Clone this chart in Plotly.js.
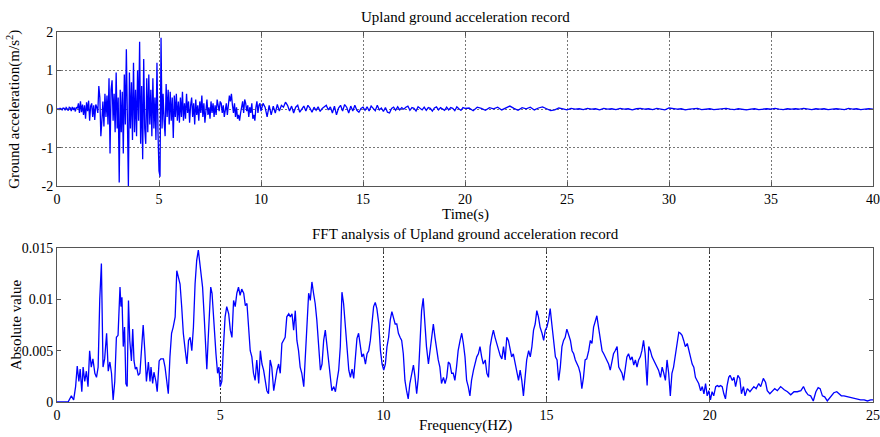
<!DOCTYPE html>
<html>
<head>
<meta charset="utf-8">
<script src="https://cdn.plot.ly/plotly-3.0.1.min.js"></script>
<style>html,body{margin:0;padding:0;background:#fff;}#chart{width:880px;height:437px;}</style>
</head>
<body>
<div id="chart"></div>
<script>
// ---- Top chart: ground acceleration (m/s^2), sampled segments ----
const seg1Start = 0.0, seg1Dt = 0.05;   // 0 - 10 s
const accelSeg1 = [
 0,0.01,-0.01,0.02,0.01,-0.02,0.03,0.02,-0.03,0.04,0.01,-0.04,0.05,0.03,-0.05,0.06,-0.02,0.04,-0.06,0.05,0.02,
 0.15,-0.1,0.2,-0.08,0.12,-0.15,0.1,-0.25,0.18,-0.05,0.22,-0.3,0.08,0.15,-0.2,0.1,-0.28,0.12,0.05,-0.1,
 0.6,0.3,-0.7,-0.3,0.2,-0.45,0.4,-0.2,0.35,-0.4,0.8,-1.15,0.5,0.75,-0.3,0.4,-0.6,0.95,-0.5,0.3,
 -1.9,0.5,-0.6,0.45,-1.15,0.9,-0.4,1.55,-0.8,-2.0,0.95,-0.5,0.7,-0.8,1.2,-0.6,0.5,-0.7,1.0,-0.3,
 1.75,-0.9,0.6,-1.3,1.3,-0.5,-0.9,0.8,-0.6,0.9,-0.4,0.5,-0.7,0.8,-0.5,0.3,-0.8,1.2,-0.6,-1.6,
 -1.75,1.85,-0.5,0.4,-0.3,-0.7,0.65,-0.2,0.5,-0.4,0.45,-0.3,0.3,-0.75,0.35,-0.2,0.4,-0.3,0.2,-0.35,
 0.3,-0.2,0.45,-0.3,0.15,-0.25,0.4,-0.1,0.2,-0.35,0.1,0.3,-0.2,0.15,-0.4,0.25,-0.15,0.1,-0.3,0.2,
 -0.1,0.35,-0.2,0.15,-0.35,0.1,0.25,-0.15,0.05,-0.25,0.2,-0.1,0.15,-0.2,0.1,-0.15,0.25,0.1,-0.05,0.2,
 0.15,-0.1,0.1,-0.2,0.05,0.15,-0.15,0.1,0.35,0.2,0.4,0.1,-0.1,0.15,-0.2,0.05,-0.25,-0.15,-0.3,-0.1,
 0.1,0.2,-0.1,0.25,0.15,-0.05,0.1,-0.2,0.05,-0.1,0.15,-0.25,-0.15,-0.3,0.05,0.2,-0.1,0.1,0.15,-0.05
];
const seg2Start = 10.1, seg2Dt = 0.1;   // 10.1 - 20 s
const accelSeg2 = [
 0.15,0.05,-0.2,0.1,-0.15,0.08,-0.1,0.12,-0.05,0.1,
 0.05,0.18,0.1,-0.05,0.08,-0.1,0.05,0.1,-0.08,0.02,
 0.08,-0.05,0.1,0.03,-0.08,0.05,-0.03,0.06,-0.06,0.02,
 0.05,0.1,-0.02,0.06,-0.1,0.08,-0.15,0.03,0.1,-0.05,
 0.12,0.05,-0.1,0.08,-0.05,0.1,-0.03,-0.08,0.02,0.05,
 -0.03,0.06,-0.05,0.08,0.02,-0.04,0.1,-0.02,0.03,-0.06,
 0.04,-0.08,-0.1,0.02,0.05,-0.03,0.06,-0.02,0.04,0.0,
 0.05,0.08,-0.03,0.04,0.02,-0.05,0.06,0.03,-0.02,0.05,
 -0.03,0.04,0.02,-0.05,0.03,0.06,-0.02,0.04,0.01,-0.03,
 0.05,-0.02,0.04,0.02,-0.04,0.06,0.01,-0.03,0.04,0.02
];
const seg3Start = 20.2, seg3Dt = 0.2;   // 20.2 - 40 s
const accelSeg3 = [
 0.03,-0.04,0.05,0.02,-0.03,0.04,0.01,0.05,-0.02,0.03,
 0.08,0.02,-0.03,0.04,0.01,0.05,-0.02,0.03,0.06,0.01,
 -0.04,-0.02,0.03,0.01,-0.02,0.02,0.0,0.01,-0.01,0.02,
 0.0,0.01,-0.02,0.02,0.0,0.01,-0.01,0.02,0.0,0.01,
 -0.02,0.01,0.02,0.0,0.01,-0.01,0.02,0.0,-0.02,0.03,
 0.02,0.0,0.01,-0.02,0.0,0.01,0.02,-0.01,0.0,0.01,
 -0.01,0.0,0.01,0.02,0.0,-0.01,0.01,0.0,-0.02,0.0,
 0.01,-0.01,0.0,0.01,0.0,0.02,0.0,-0.01,0.01,0.0,
 0.01,0.0,0.02,0.0,-0.01,0.01,0.0,0.01,-0.01,0.0,
 0.01,0.0,-0.01,0.02,0.0,0.01,-0.01,0.0,0.01,0.0
];

// ---- Bottom chart: FFT amplitude, read at these frequencies (Hz) ----
const fftFreq = [
 0,0.34,0.44,0.51,0.57,0.62,0.67,0.71,0.76,0.8,0.85,0.9,0.95,1.0,1.05,1.1,1.16,1.21,1.26,1.31,1.36,1.41,1.46,1.52,1.57,1.62,1.67,1.72,1.77,1.82,1.87,1.93,1.96,1.99,
 2.03,2.07,2.11,2.15,2.19,2.23,2.28,2.32,2.36,2.4,2.44,2.49,2.54,2.59,2.64,2.69,2.74,2.8,2.85,2.88,2.93,2.97,3.03,3.07,3.13,3.18,3.26,3.31,3.36,3.41,3.46,3.51,3.56,3.62,
 3.67,3.72,3.77,3.82,3.87,3.93,3.98,4.03,4.08,4.13,4.18,4.23,4.28,4.33,4.36,4.4,4.46,4.51,4.55,4.59,4.63,4.67,4.71,4.75,4.79,4.83,4.87,4.92,4.96,5.0,5.05,
 5.1,5.15,5.2,5.26,5.31,5.36,5.41,5.46,5.51,5.56,5.61,5.66,5.72,5.77,5.82,5.87,5.92,5.97,6.02,6.07,6.12,6.18,6.23,6.28,6.33,6.43,6.48,6.53,6.58,6.64,6.69,6.74,6.79,6.84,6.89,6.94,6.99,
 7.04,7.1,7.15,7.2,7.25,7.3,7.35,7.4,7.45,7.5,7.56,7.61,7.66,7.71,7.76,7.81,7.86,7.91,7.96,8.01,8.07,8.12,8.17,8.22,8.27,8.32,8.37,8.42,8.48,8.53,8.58,8.63,8.68,8.73,8.78,8.83,8.88,8.94,8.99,
 9.04,9.09,9.14,9.19,9.24,9.29,9.34,9.39,9.45,9.5,9.55,9.6,9.65,9.7,9.75,9.8,9.86,9.91,9.96,10.01,10.06,10.11,10.16,10.21,10.26,10.31,10.36,10.41,10.46,10.51,10.56,10.61,10.66,10.71,10.76,10.81,10.87,10.92,10.97,
 11.02,11.07,11.12,11.17,11.22,11.27,11.32,11.38,11.43,11.48,11.53,11.58,11.63,11.68,11.73,11.78,11.84,11.89,11.94,11.99,12.04,12.09,12.14,12.19,12.24,12.29,12.35,12.4,12.45,12.5,12.55,12.6,12.65,12.7,12.76,12.81,12.86,12.91,12.96,
 13.01,13.06,13.12,13.17,13.22,13.27,13.32,13.37,13.42,13.47,13.53,13.58,13.63,13.68,13.73,13.78,13.83,13.88,13.93,13.98,14.04,14.09,14.14,14.19,14.24,14.29,14.34,14.39,14.45,14.5,14.55,14.6,14.65,14.7,14.75,14.8,14.86,14.91,14.96,
 15.01,15.06,15.11,15.16,15.21,15.27,15.32,15.37,15.42,15.47,15.52,15.57,15.62,15.68,15.73,15.78,15.83,15.88,15.93,15.98,16.03,16.08,16.13,16.18,16.23,16.29,16.34,16.39,16.44,16.49,16.54,16.59,16.64,16.7,16.75,16.8,16.85,16.9,16.95,
 17.0,17.05,17.1,17.16,17.21,17.26,17.31,17.36,17.41,17.46,17.51,17.57,17.62,17.67,17.72,17.77,17.82,17.87,17.92,17.97,18.02,18.08,18.13,18.18,18.23,18.28,18.33,18.38,18.43,18.49,18.54,18.59,18.64,18.69,18.74,18.79,18.84,18.89,18.95,
 19.0,19.05,19.1,19.15,19.2,19.25,19.31,19.36,19.41,19.46,19.51,19.56,19.61,19.66,19.72,19.77,19.82,19.87,19.92,19.97,20.02,20.07,20.12,20.18,20.23,20.28,20.33,20.38,20.43,20.48,20.53,20.58,20.62,20.69,20.74,20.79,20.86,20.92,20.97,
 21.03,21.08,21.15,21.23,21.3,21.35,21.42,21.5,21.56,21.64,21.71,21.76,21.84,21.91,21.99,22.07,22.17,22.28,22.38,22.48,22.58,22.68,22.79,22.87,22.94,
 23.01,23.09,23.17,23.25,23.32,23.38,23.45,23.52,23.6,23.7,23.8,23.89,23.96,24.03,24.11,24.22,24.37,24.52,24.62,24.73,24.83,24.93,25.0
];
const fftAmp = [
 0,0,0.0006,0.0002,0.0015,0.0035,0.002,0.0032,0.001,0.0034,0.002,0.003,0.0015,0.005,0.0034,0.0042,0.0028,0.0024,0.0034,0.010,0.0135,0.0034,0.0042,0.0067,0.003,0.0039,0.0028,0.0002,0.002,0.0063,0.0065,0.0112,0.0093,0.0102,
 0.0054,0.0073,0.0018,0.0015,0.0099,0.006,0.004,0.0071,0.004,0.0032,0.0034,0.0026,0.0028,0.0054,0.0075,0.005,0.002,0.0039,0.002,0.0034,0.0018,0.0029,0.002,0.001,0.004,0.0042,0.0042,0.0034,0.0018,0.0008,0.0044,0.0067,0.0073,0.0083,
 0.0128,0.0122,0.0115,0.0093,0.0067,0.005,0.0037,0.006,0.0063,0.005,0.0073,0.0115,0.0138,0.0148,0.014,0.0125,0.0112,0.0083,0.006,0.0032,0.006,0.0086,0.0112,0.0106,0.0083,0.006,0.0047,0.0028,0.0034,0.0015,0.002,
 0.0054,0.0083,0.0093,0.0086,0.007,0.0063,0.0099,0.0093,0.0106,0.0112,0.0104,0.011,0.0106,0.0094,0.0096,0.007,0.005,0.0044,0.0028,0.0021,0.0041,0.0018,0.005,0.0037,0.0031,0.0011,0.0008,0.0041,0.0034,0.0011,0.0024,0.0031,0.0037,0.0028,0.0057,0.006,0.0063,
 0.0083,0.0086,0.0083,0.0086,0.007,0.0089,0.006,0.005,0.0034,0.0028,0.0015,0.005,0.0076,0.0106,0.0099,0.0117,0.0106,0.0096,0.008,0.0057,0.0031,0.0037,0.006,0.007,0.0054,0.0037,0.0021,0.0011,0.0015,0.001,0.0021,0.0031,0.0054,0.0107,0.0096,0.0073,0.005,0.0031,0.0024,
 0.0032,0.0023,0.0047,0.0062,0.0067,0.0057,0.0044,0.0047,0.0037,0.0047,0.005,0.006,0.0076,0.0093,0.0097,0.0091,0.0076,0.005,0.0037,0.0031,0.0037,0.0054,0.0063,0.008,0.0088,0.0083,0.0076,0.0076,0.0067,0.0063,0.006,0.0047,0.0021,0.0011,0.0003,0.0018,0.0028,0.0036,0.0024,
 0.0008,0.0024,0.006,0.0089,0.0101,0.0073,0.0054,0.0037,0.005,0.0063,0.0076,0.0063,0.005,0.0041,0.0034,0.0018,0.0024,0.0018,0.0024,0.0039,0.0037,0.0028,0.0028,0.0021,0.0034,0.005,0.006,0.0067,0.0057,0.0044,0.0021,0.0015,0.0006,0.0021,0.0031,0.0037,0.0044,0.0047,0.0054,
 0.0044,0.0037,0.0041,0.0028,0.0024,0.0054,0.0063,0.007,0.0063,0.0057,0.005,0.0045,0.0042,0.0054,0.0041,0.0063,0.006,0.005,0.0044,0.0047,0.0037,0.0028,0.0021,0.0031,0.0021,0.0006,0.0021,0.0041,0.005,0.0044,0.0054,0.007,0.0076,0.0089,0.0083,0.0073,0.0067,0.006,0.007,
 0.0073,0.008,0.0091,0.0076,0.006,0.0044,0.0041,0.0021,0.0034,0.0054,0.006,0.0063,0.0071,0.0065,0.006,0.005,0.0047,0.0041,0.0037,0.0034,0.0028,0.0013,0.0024,0.0041,0.0042,0.005,0.006,0.0057,0.0073,0.0078,0.0084,0.0073,0.006,0.005,0.0047,0.0044,0.0041,0.0037,0.0031,
 0.0041,0.0047,0.005,0.0054,0.0034,0.0031,0.0028,0.0021,0.0034,0.0044,0.0047,0.0041,0.0044,0.0036,0.0041,0.0034,0.0041,0.0044,0.005,0.006,0.0047,0.0016,0.0054,0.005,0.0044,0.0041,0.0037,0.0034,0.0031,0.0024,0.0034,0.0028,0.0021,0.0041,0.0028,0.0006,0.0028,0.0034,0.0047,
 0.0057,0.0068,0.0067,0.0065,0.006,0.0054,0.0057,0.005,0.0044,0.0037,0.0034,0.0024,0.0021,0.0018,0.0011,0.0015,0.0008,0.0018,0.0006,0.0011,0.0002,0.001,0.0006,0.0015,0.0016,0.0015,0.0016,0.0015,0.0008,0.0003,0.0016,0.0024,0.0026,0.0021,0.0024,0.0015,0.0026,0.0023,0.0008,
 0.0015,0.0006,0.0013,0.001,0.0013,0.0015,0.0013,0.0018,0.0015,0.0023,0.0019,0.0011,0.0008,0.001,0.0013,0.0011,0.0015,0.0012,0.001,0.0007,0.001,0.001,0.0011,0.0015,0.001,
 0.0007,0.0006,0.0001,0.001,0.0014,0.0013,0.0006,0.0005,0.0001,0.0005,0.0009,0.001,0.0008,0.0006,0.0006,0.0005,0.0004,0.0003,0.0002,0.0002,0.0001,0.0002,0.0002
];

// tick labels
const topXTicks = [0,5,10,15,20,25,30,35,40];
const topYTicks = [-2,-1,0,1,2];
const topYLabels = ['-2','-1','0','1','2'];
const botXTicks = [0,5,10,15,20,25];
const botYTicks = [0,0.005,0.01,0.015];
const botYLabels = ['0','0.005','0.01','0.015'];

// build time axis from the segments' sampling
function timeAxis(start, dt, n){ const t=[]; for(let i=0;i<n;i++) t.push(+(start+i*dt).toFixed(3)); return t; }
const time = [].concat(
  timeAxis(seg1Start, seg1Dt, accelSeg1.length),
  timeAxis(seg2Start, seg2Dt, accelSeg2.length),
  timeAxis(seg3Start, seg3Dt, accelSeg3.length));
const accel = [].concat(accelSeg1, accelSeg2, accelSeg3);

const fam = '"Liberation Serif","Times New Roman",serif';
const tickFont = {family:fam, size:14, color:'#000'};
const titleFont = {family:fam, size:15, color:'#000'};
const lineColor = '#0000ff';

const traces = [
  {x: time, y: accel, type:'scatter', mode:'lines', line:{color:lineColor, width:1.3}, xaxis:'x', yaxis:'y', hoverinfo:'skip'},
  {x: fftFreq, y: fftAmp, type:'scatter', mode:'lines', line:{color:lineColor, width:1.3}, xaxis:'x2', yaxis:'y2', hoverinfo:'skip'}
];

const axBase = {showline:true, linecolor:'#555', linewidth:1, mirror:'ticks', ticks:'inside', ticklen:4, tickcolor:'#555', zeroline:false, tickfont:tickFont};

const layout = {
  width:880, height:437,
  margin:{l:57, r:7, t:32, b:35},
  paper_bgcolor:'#fff', plot_bgcolor:'#fff',
  showlegend:false,
  font: tickFont,
  xaxis: Object.assign({}, axBase, {domain:[0,1], range:[0,40], tickvals:topXTicks, ticktext:topXTicks.map(String), showgrid:true, gridcolor:'#777', griddash:'2px,2px', gridwidth:1, anchor:'y'}),
  yaxis: Object.assign({}, axBase, {domain:[0.583,1], range:[-2,2], tickvals:topYTicks, ticktext:topYLabels, showgrid:true, gridcolor:'#777', griddash:'2px,2px', gridwidth:1, anchor:'x'}),
  xaxis2: Object.assign({}, axBase, {domain:[0,1], range:[0,25], tickvals:botXTicks, ticktext:botXTicks.map(String), showgrid:true, gridcolor:'#333', griddash:'2px,2px', gridwidth:1, anchor:'y2'}),
  yaxis2: Object.assign({}, axBase, {domain:[0,0.416], range:[0,0.015], tickvals:botYTicks, ticktext:botYLabels, showgrid:false, anchor:'x2'}),
  annotations: [
    {text:'Upland ground acceleration record', xref:'paper', yref:'paper', x:0.5, y:1.0405, xanchor:'center', yanchor:'middle', showarrow:false, font:titleFont},
    {text:'Time(s)', xref:'paper', yref:'paper', x:0.5, y:0.507, xanchor:'center', yanchor:'middle', showarrow:false, font:titleFont},
    {text:'Ground acceleration(m/s<sup>2</sup>)', xref:'paper', yref:'paper', x:-0.053, y:0.792, xanchor:'center', yanchor:'middle', textangle:-90, showarrow:false, font:titleFont},
    {text:'FFT analysis of Upland ground acceleration record', xref:'paper', yref:'paper', x:0.5, y:0.454, xanchor:'center', yanchor:'middle', showarrow:false, font:titleFont},
    {text:'Frequency(HZ)', xref:'paper', yref:'paper', x:0.5, y:-0.064, xanchor:'center', yanchor:'middle', showarrow:false, font:titleFont},
    {text:'Absolute value', xref:'paper', yref:'paper', x:-0.05, y:0.208, xanchor:'center', yanchor:'middle', textangle:-90, showarrow:false, font:titleFont}
  ]
};

Plotly.newPlot('chart', traces, layout, {staticPlot:true, displayModeBar:false});
</script>
</body>
</html>
